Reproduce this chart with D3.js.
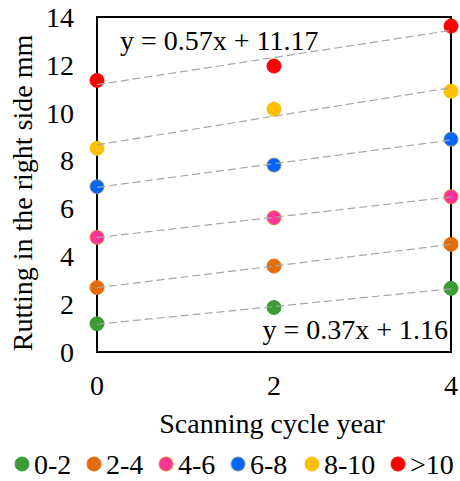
<!DOCTYPE html>
<html>
<head>
<meta charset="utf-8">
<script src="https://cdn.jsdelivr.net/npm/d3@7"></script>
<style>
  body { margin: 0; background: #fff; }
</style>
</head>
<body>
<div id="chart"></div>
<script>
const years = [0, 2, 4];
const groups = ["0-2", "2-4", "4-6", "6-8", "8-10", ">10"];
const fills = ["#3d9b35", "#e46c0a", "#ff3399", "#0066ff", "#ffc000", "#ff0000"];
const strokes = ["#3d9b35", "#e46c0a", "#ed7d31", "#8c8c8c", "#ffc000", "#ff0000"];
const rutting = [
    [1.18, 1.86, 2.66],
    [2.69, 3.59, 4.50],
    [4.79, 5.61, 6.49],
    [6.91, 7.81, 8.89],
    [8.51, 10.15, 10.90],
    [11.35, 11.95, 13.62]
];
const yTicks = [0, 2, 4, 6, 8, 10, 12, 14];
const eqTop = "y = 0.57x + 11.17";
const eqBottom = "y = 0.37x + 1.16";

const width = 460, height = 481;
const margin = { left: 97, right: 9, top: 17, bottom: 129 };
const font = "'Liberation Serif', 'Times New Roman', serif";
const fs = 28;

const svg = d3.select("#chart").append("svg")
    .attr("width", width)
    .attr("height", height)
    .attr("font-family", font);

const x = d3.scaleLinear().domain([0, 4]).range([margin.left, width - margin.right]);
const y = d3.scaleLinear().domain([0, 14]).range([height - margin.bottom, margin.top]);

// plot frame
svg.append("rect")
    .attr("x", x(0)).attr("y", y(14))
    .attr("width", x(4) - x(0)).attr("height", y(0) - y(14))
    .attr("fill", "none").attr("stroke", "#000").attr("stroke-width", 2);

// tick labels
svg.selectAll(".ytick").data(yTicks).enter().append("text")
    .attr("x", 74).attr("y", d => y(d)).attr("dy", "0.35em")
    .attr("text-anchor", "end").attr("font-size", fs)
    .text(d => d);

svg.selectAll(".xtick").data(years).enter().append("text")
    .attr("x", d => x(d)).attr("y", 395)
    .attr("text-anchor", "middle").attr("font-size", fs)
    .text(d => d);

// axis titles
svg.append("text")
    .attr("x", 272).attr("y", 433)
    .attr("text-anchor", "middle").attr("font-size", fs)
    .text("Scanning cycle year");

svg.append("text")
    .attr("transform", "translate(32, 193) rotate(-90)")
    .attr("text-anchor", "middle").attr("font-size", fs)
    .text("Rutting in the right side mm");

// markers
rutting.forEach((vals, i) => {
    svg.selectAll(".pt" + i).data(vals).enter().append("circle")
        .attr("cx", (d, j) => x(years[j]))
        .attr("cy", d => y(d))
        .attr("r", 7)
        .attr("fill", fills[i])
        .attr("stroke", strokes[i])
        .attr("stroke-width", 1);
});

// linear trend lines (least squares)
rutting.forEach(vals => {
    const mx = d3.mean(years), my = d3.mean(vals);
    const slope = d3.sum(years, (t, j) => (t - mx) * (vals[j] - my)) / d3.sum(years, t => (t - mx) * (t - mx));
    const icpt = my - slope * mx;
    svg.append("line")
        .attr("x1", x(0)).attr("y1", y(icpt))
        .attr("x2", x(4)).attr("y2", y(icpt + slope * 4))
        .attr("stroke", "#a6a6a6").attr("stroke-width", 1.2)
        .attr("stroke-dasharray", "8,4");
});

// equations
svg.append("text")
    .attr("x", 120).attr("y", 50).attr("font-size", fs)
    .text(eqTop);
svg.append("text")
    .attr("x", 448).attr("y", 339).attr("text-anchor", "end").attr("font-size", fs)
    .text(eqBottom);

// legend
const legendX = [22, 94, 166, 238, 312, 398];
groups.forEach((g, i) => {
    svg.append("circle")
        .attr("cx", legendX[i]).attr("cy", 464).attr("r", 7)
        .attr("fill", fills[i]).attr("stroke", strokes[i]);
    svg.append("text")
        .attr("x", legendX[i] + 12).attr("y", 474)
        .attr("font-size", fs)
        .text(g);
});
</script>
</body>
</html>
